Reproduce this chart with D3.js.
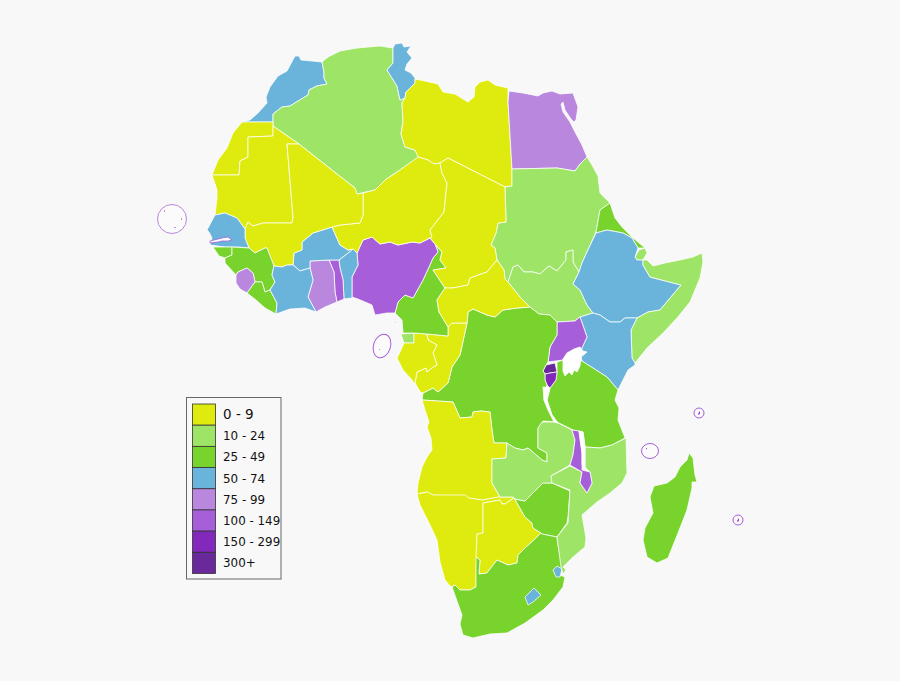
<!DOCTYPE html>
<html>
<head>
<meta charset="utf-8">
<title>Africa map</title>
<style>
  body { margin: 0; background: #f8f8f8; }
  text { font-family: "DejaVu Sans", sans-serif; fill: #111; }
</style>
</head>
<body>
<svg id="map" width="900" height="681"></svg>
<script src="https://d3js.org/d3.v7.min.js"></script>
<script>
// legend classes
const bandLabels = ["0 - 9", "10 - 24", "25 - 49", "50 - 74", "75 - 99", "100 - 149", "150 - 299", "300+"];
const bandColors = ["#dfeb0e", "#9ee466", "#78d42d", "#6ab4db", "#b987dd", "#a65fd8", "#8228bc", "#69299a"];

// class of each country, index into bandLabels
const countryNames = ["Morocco", "Algeria", "Tunisia", "Libya", "Egypt", "Sudan", "South Sudan", "Eritrea", "Djibouti", "Ethiopia",
  "Somalia", "Kenya", "Uganda", "Tanzania", "Rwanda", "Burundi", "DR Congo", "Congo", "Equatorial Guinea", "Gabon",
  "Cameroon", "Nigeria", "Benin", "Togo", "Ghana", "Burkina Faso", "Niger", "Western Sahara", "Mauritania", "Mali",
  "Senegal", "Guinea-Bissau", "Guinea", "Sierra Leone", "Liberia", "Ivory Coast", "Chad", "CAR", "Angola", "Namibia",
  "Botswana", "Zimbabwe", "South Africa", "Lesotho", "Swaziland", "Zambia", "Mozambique", "Malawi", "Madagascar"];
const countryBands = [3, 1, 3, 0, 4, 1, 1, 2, 1, 3,
  1, 3, 5, 2, 7, 6, 2, 0, 1, 0,
  2, 5, 3, 5, 4, 3, 0, 0, 0, 0,
  3, 2, 2, 4, 2, 3, 0, 0, 0, 0,
  0, 2, 2, 3, 3, 1, 1, 5, 2];

// outlines in map units, same order as countryNames
const countryOutlines = [
  [[[242,122],[250,120],[258,113],[267,103],[266,97],[270,87],[278,76],[287,71],[295,56],[299,56],[301,60],[312,61],[322,62],[324,72],[324,78],[327,84],[317,86],[309,90],[308,95],[298,101],[290,106],[282,107],[273,114],[273,122]]],
  [[[322,62],[328,57],[340,51],[357,48],[368,47],[380,46],[393,48],[393,58],[393,63],[387,70],[392,78],[397,86],[400,100],[405,98],[402,103],[403,122],[401,134],[405,147],[415,150],[419,157],[400,170],[385,180],[375,190],[357,194],[355,188],[342,178],[299,144],[273,126],[273,114],[282,107],[290,106],[298,101],[308,95],[309,90],[317,86],[327,84],[324,78],[324,72]]],
  [[[393,48],[395,44],[402,43],[404,47],[411,46],[407,52],[412,58],[407,64],[405,70],[411,73],[415,78],[415,83],[406,92],[405,98],[400,100],[397,86],[392,78],[387,70],[393,63],[393,58]]],
  [[[415,79],[425,81],[438,84],[443,92],[455,94],[463,99],[468,102],[474,97],[475,87],[480,82],[488,80],[495,85],[508,88],[508,102],[512,168],[512,186],[505,187],[448,158],[440,163],[434,164],[428,160],[418,157],[415,150],[405,147],[401,134],[403,122],[402,103],[405,98],[406,92],[415,83]]],
  [[[509,91],[523,93],[538,96],[543,93],[552,91],[560,94],[573,93],[578,107],[576,120],[574,122],[571,119],[565,110],[563,102],[561,104],[563,112],[570,122],[575,132],[582,145],[587,157],[580,164],[575,171],[557,168],[512,169],[508,102]]],
  [[[512,169],[557,168],[575,171],[580,164],[587,157],[592,165],[598,176],[600,193],[610,203],[600,210],[596,232],[587,252],[582,263],[579,272],[573,262],[573,250],[566,252],[566,260],[557,271],[549,266],[540,274],[533,272],[524,272],[518,265],[513,267],[508,282],[505,279],[504,270],[497,260],[495,248],[491,245],[496,233],[498,223],[506,222],[505,187],[512,186]]],
  [[[508,282],[513,267],[518,265],[524,272],[533,272],[540,274],[549,266],[557,271],[566,260],[566,252],[573,250],[573,262],[579,272],[573,284],[580,290],[587,305],[593,313],[580,317],[575,321],[557,322],[550,315],[539,314],[530,307],[520,297]]],
  [[[610,203],[615,218],[622,227],[632,237],[645,248],[638,248],[632,238],[623,233],[607,230],[596,233],[596,232],[600,210]]],
  [[[645,248],[647,253],[643,260],[637,260],[635,257],[639,250]]],
  [[[596,233],[607,230],[623,233],[632,238],[638,248],[635,257],[637,260],[643,260],[643,265],[650,277],[681,285],[660,310],[648,312],[637,318],[625,318],[620,322],[610,322],[600,315],[593,313],[587,305],[580,290],[573,284],[579,272],[582,263],[587,252]]],
  [[[643,260],[647,260],[653,266],[665,263],[680,260],[693,257],[702,253],[703,262],[700,278],[690,302],[677,318],[663,333],[647,348],[635,363],[632,358],[631,330],[637,318],[648,312],[660,310],[681,285],[650,277],[643,265]]],
  [[[593,313],[600,315],[610,322],[620,322],[625,318],[637,318],[631,330],[632,358],[635,363],[635,365],[628,370],[618,390],[607,377],[582,361],[580,352],[587,337],[580,317]]],
  [[[580,317],[587,337],[580,352],[568,356],[563,360],[548,362],[550,347],[557,335],[557,322],[575,321]]],
  [[[557,362],[563,360],[582,361],[607,377],[618,390],[615,400],[619,408],[618,420],[625,438],[612,445],[600,448],[585,447],[583,432],[573,430],[557,422],[552,415],[547,400],[550,388],[556,380],[557,372]]],
  [[[543,371],[546,365],[555,363],[557,372],[550,373],[545,374]]],
  [[[545,374],[550,373],[557,372],[556,380],[550,388],[547,385],[545,380]]],
  [[[468,312],[473,309],[487,315],[495,317],[503,310],[517,308],[530,307],[539,314],[550,315],[557,322],[557,335],[550,347],[548,362],[546,365],[543,371],[545,374],[545,380],[547,385],[545,390],[544,400],[550,413],[556,422],[543,421],[538,428],[538,448],[547,453],[547,462],[542,460],[528,448],[523,450],[515,448],[507,443],[494,443],[492,430],[490,412],[481,411],[473,412],[472,417],[460,418],[453,402],[422,400],[423,393],[433,388],[438,392],[448,383],[452,367],[460,355],[467,323]]],
  [[[452,323],[467,323],[460,355],[452,367],[448,383],[438,392],[433,388],[423,393],[420,392],[415,383],[417,372],[426,368],[427,372],[433,367],[437,365],[433,353],[437,345],[428,340],[427,334],[448,336],[448,327]]],
  [[[401,334],[414,333],[414,343],[404,343]], [[394,322],[396,321],[396,324]]],
  [[[400,352],[404,343],[414,343],[414,333],[427,334],[428,340],[437,345],[433,353],[437,365],[433,367],[427,372],[426,368],[417,372],[415,383],[420,392],[412,380],[403,370],[397,358]]],
  [[[435,244],[442,252],[440,260],[446,268],[433,270],[445,288],[437,300],[439,312],[448,327],[448,336],[427,334],[414,333],[403,333],[402,320],[395,313],[398,302],[405,295],[413,298],[423,280],[429,267],[433,258],[438,252]]],
  [[[363,240],[372,237],[380,244],[390,242],[398,245],[412,242],[420,243],[430,238],[435,244],[438,252],[433,258],[429,267],[423,280],[413,298],[405,295],[398,302],[395,313],[387,313],[375,315],[372,305],[358,299],[352,297],[352,277],[358,265],[357,253]]],
  [[[339,260],[348,253],[353,249],[357,253],[358,265],[352,277],[352,298],[344,299],[343,280],[340,268]]],
  [[[329,260],[339,260],[340,268],[343,280],[344,299],[337,302],[335,292],[334,272]]],
  [[[310,261],[329,260],[334,272],[335,292],[337,302],[325,307],[316,312],[308,297],[313,280],[310,268]]],
  [[[293,265],[294,253],[302,250],[302,242],[313,233],[332,227],[340,245],[348,250],[353,249],[348,253],[339,260],[329,260],[310,261],[310,268],[300,271]]],
  [[[418,157],[428,160],[434,164],[440,163],[442,173],[447,183],[444,212],[430,230],[432,237],[430,238],[420,243],[412,242],[398,245],[390,242],[380,244],[372,237],[363,240],[357,253],[353,249],[348,250],[340,245],[332,227],[340,225],[360,223],[363,215],[363,193],[375,190],[385,180],[400,170]]],
  [[[242,122],[273,122],[273,136],[248,137],[248,157],[240,161],[239,175],[212,175],[218,160],[227,148],[233,133]]],
  [[[273,126],[299,144],[287,144],[293,217],[292,223],[263,223],[253,226],[248,222],[245,229],[237,218],[225,213],[215,215],[217,198],[217,190],[212,175],[239,175],[240,161],[248,157],[248,137],[273,136]]],
  [[[287,144],[299,144],[342,178],[355,188],[357,194],[363,193],[363,215],[360,223],[340,225],[332,227],[313,233],[302,242],[302,250],[294,253],[293,265],[287,265],[282,267],[274,266],[267,248],[265,248],[255,253],[249,248],[245,238],[245,229],[248,222],[253,226],[263,223],[292,223],[293,217]]],
  [[[207,230],[215,215],[225,213],[237,218],[245,229],[245,238],[249,248],[238,247],[225,247],[210,245],[212,238],[209,232]]],
  [[[213,247],[232,247],[232,255],[225,258],[219,256]]],
  [[[232,247],[249,248],[255,253],[265,248],[267,248],[274,266],[272,275],[275,282],[270,290],[265,292],[262,282],[255,282],[253,273],[247,268],[238,272],[236,275],[225,263],[225,258],[232,255]]],
  [[[238,272],[247,268],[253,273],[255,282],[247,293],[240,289],[236,283],[236,275]]],
  [[[255,282],[262,282],[265,292],[270,290],[277,303],[276,314],[265,308],[256,300],[247,293]]],
  [[[274,266],[282,267],[287,265],[293,265],[300,271],[310,268],[313,280],[308,297],[316,312],[305,308],[290,309],[276,314],[277,303],[270,290],[275,282],[272,275]]],
  [[[440,163],[448,158],[505,187],[506,222],[498,223],[496,233],[491,245],[495,248],[497,260],[487,272],[470,278],[468,285],[453,288],[445,288],[433,270],[446,268],[440,260],[442,252],[435,244],[430,238],[432,237],[430,230],[444,212],[447,183],[442,173]]],
  [[[497,260],[504,270],[505,279],[508,282],[520,297],[530,307],[517,308],[503,310],[495,317],[487,315],[473,309],[468,312],[467,323],[452,323],[448,327],[439,312],[437,300],[445,288],[453,288],[468,285],[470,278],[487,272]]],
  [[[422,400],[453,402],[460,418],[472,417],[473,412],[481,411],[490,412],[492,430],[494,443],[507,443],[506,458],[492,459],[492,483],[500,497],[482,500],[467,498],[448,496],[432,495],[427,492],[417,494],[418,483],[422,467],[427,457],[432,450],[431,438],[427,427],[429,422],[425,410]]],
  [[[417,494],[428,492],[433,495],[465,495],[469,498],[482,500],[498,497],[513,497],[514,498],[505,504],[502,504],[500,500],[483,503],[483,533],[477,534],[476,587],[470,590],[460,590],[455,585],[451,587],[445,580],[440,562],[437,540],[430,525],[420,505]]],
  [[[483,503],[500,500],[502,504],[505,504],[514,498],[517,503],[525,517],[532,523],[533,528],[541,533],[535,539],[525,548],[518,555],[517,563],[508,565],[497,560],[490,569],[487,573],[479,574],[480,560],[476,557],[477,534],[483,533]]],
  [[[515,499],[525,501],[533,493],[543,483],[552,483],[570,491],[568,517],[567,523],[557,537],[542,534],[541,533],[533,528],[532,523],[525,517],[517,503]]],
  [[[476,557],[480,560],[479,574],[487,573],[490,569],[497,560],[508,565],[517,563],[518,555],[525,548],[535,539],[541,533],[542,534],[557,537],[558,545],[562,567],[560,575],[565,577],[563,587],[553,600],[543,610],[525,623],[507,633],[490,634],[473,638],[463,635],[460,624],[462,615],[452,587],[455,585],[460,590],[470,590],[476,587]]],
  [[[525,597],[534,588],[541,595],[533,602],[528,605]]],
  [[[553,570],[557,566],[562,569],[560,577],[556,577]]],
  [[[542,422],[556,422],[572,430],[575,440],[573,455],[570,465],[551,476],[552,483],[543,483],[533,493],[525,501],[515,499],[513,497],[500,497],[492,483],[492,459],[506,458],[507,443],[515,448],[523,450],[528,448],[542,460],[547,462],[547,453],[538,448],[538,428]]],
  [[[585,447],[600,448],[612,445],[626,438],[627,473],[622,483],[610,493],[597,502],[582,515],[586,538],[585,547],[573,557],[563,567],[566,570],[563,574],[561,567],[557,537],[568,523],[570,490],[552,483],[551,476],[570,466],[582,472],[580,483],[587,493],[592,483],[590,472],[585,467]]],
  [[[572,430],[579,431],[582,453],[582,470],[590,472],[592,483],[587,493],[580,483],[582,472],[570,465],[573,455],[575,440]]],
  [[[689,453],[693,458],[695,475],[697,482],[692,482],[692,488],[687,510],[678,533],[668,558],[657,563],[647,557],[643,540],[645,528],[653,513],[650,497],[654,486],[667,483],[675,477],[680,467],[687,460]]]
];

// lakes, the reference leaves them white
const lakeOutlines = [
  [[563,359],[567,353],[574,349],[580,347],[583,351],[587,352],[581,357],[580,366],[577,372],[574,370],[572,375],[569,372],[565,376],[563,371]],
  [[543,387],[550,388],[547,400],[552,415],[558,423],[554,422],[548,410],[544,400]],
  [[579,431],[583,432],[585,447],[585,467],[582,465],[582,453]]
];

// small island states: circled, with band, centre and radii in map units
const ringBands = [4, 5, 5, 5, 5];
const ringCentres = [[172,219], [382,346], [650,451], [699,413], [738,520]];
const ringRadii = [[14.5,14.5], [8.5,12], [8.5,7.5], [5,5], [5,5]];
const ringTilts = [0, 18, 0, 0, 0];
const isletOutlines = [
  [[164,210],[165,211],[164,212]], [[181,218],[182,219],[181,220]], [[175,227],[176,228],[174,228]],
  [[379,349],[380,349],[379,350]], [[646,448],[647,448],[646,450]],
  [[698,414],[700,411],[700,413],[699,415]], [[737,521],[739,518],[739,520],[738,522]]
];

const gambiaOutline = [[210,241],[218,239],[222,238],[228,237],[232,240],[228,241],[222,241],[218,242],[210,243]];

const svg = d3.select("#map");
const projection = d3.geoIdentity();
const path = d3.geoPath(projection);
const bandColor = d3.scaleOrdinal(d3.range(bandLabels.length), bandColors);

function closeRing(ring) { return ring.concat([ring[0]]); }

const features = countryNames.map((name, i) => ({
  type: "Feature",
  properties: { name: name, band: countryBands[i] },
  geometry: { type: "MultiPolygon", coordinates: countryOutlines[i].map(r => [closeRing(r)]) }
}));

svg.append("g").selectAll("path")
  .data(features)
  .join("path")
  .attr("d", path)
  .attr("fill", d => bandColor(d.properties.band))
  .attr("stroke", "#fff")
  .attr("stroke-width", 0.9)
  .attr("stroke-opacity", 0.85)
  .attr("stroke-linejoin", "round");

// gambia sits inside senegal
svg.append("path")
  .attr("d", path({ type: "Polygon", coordinates: [closeRing(gambiaOutline)] }))
  .attr("fill", "#fff")
  .attr("stroke", bandColor(5))
  .attr("stroke-width", 0.8);

svg.append("g").selectAll("path")
  .data(lakeOutlines)
  .join("path")
  .attr("d", d => path({ type: "Polygon", coordinates: [closeRing(d)] }))
  .attr("fill", "#fff")
  .attr("stroke", "#fff")
  .attr("stroke-width", 0.8);

svg.append("g").selectAll("ellipse")
  .data(ringCentres)
  .join("ellipse")
  .attr("transform", (d, i) => {
    const p = projection(d);
    return "translate(" + p[0] + "," + p[1] + ") rotate(" + ringTilts[i] + ")";
  })
  .attr("rx", (d, i) => ringRadii[i][0])
  .attr("ry", (d, i) => ringRadii[i][1])
  .attr("fill", "#fff")
  .attr("fill-opacity", 0.4)
  .attr("stroke", (d, i) => bandColor(ringBands[i]))
  .attr("stroke-width", 1);

svg.append("g").selectAll("path")
  .data(isletOutlines)
  .join("path")
  .attr("d", d => path({ type: "Polygon", coordinates: [closeRing(d)] }))
  .attr("fill", bandColor(6))
  .attr("stroke", "none");

// legend
const legendY = d3.scaleBand().domain(bandLabels).range([404, 573.5]);
const legend = svg.append("g");

legend.append("rect")
  .attr("x", 186.5)
  .attr("y", 397.5)
  .attr("width", 94.5)
  .attr("height", 181.5)
  .attr("fill", "#f8f8f8")
  .attr("stroke", "#666")
  .attr("stroke-width", 1);

legend.selectAll("rect.swatch")
  .data(bandLabels)
  .join("rect")
  .attr("class", "swatch")
  .attr("x", 192.5)
  .attr("y", d => legendY(d))
  .attr("width", 23)
  .attr("height", legendY.bandwidth())
  .attr("fill", (d, i) => bandColor(i))
  .attr("stroke", "#333")
  .attr("stroke-width", 0.8);

legend.selectAll("text")
  .data(bandLabels)
  .join("text")
  .attr("x", 223)
  .attr("y", d => legendY(d) + legendY.bandwidth() / 2 + 4.5)
  .attr("font-size", (d, i) => i === 0 ? 13.5 : 11.9)
  .text(d => d);
</script>
</body>
</html>
